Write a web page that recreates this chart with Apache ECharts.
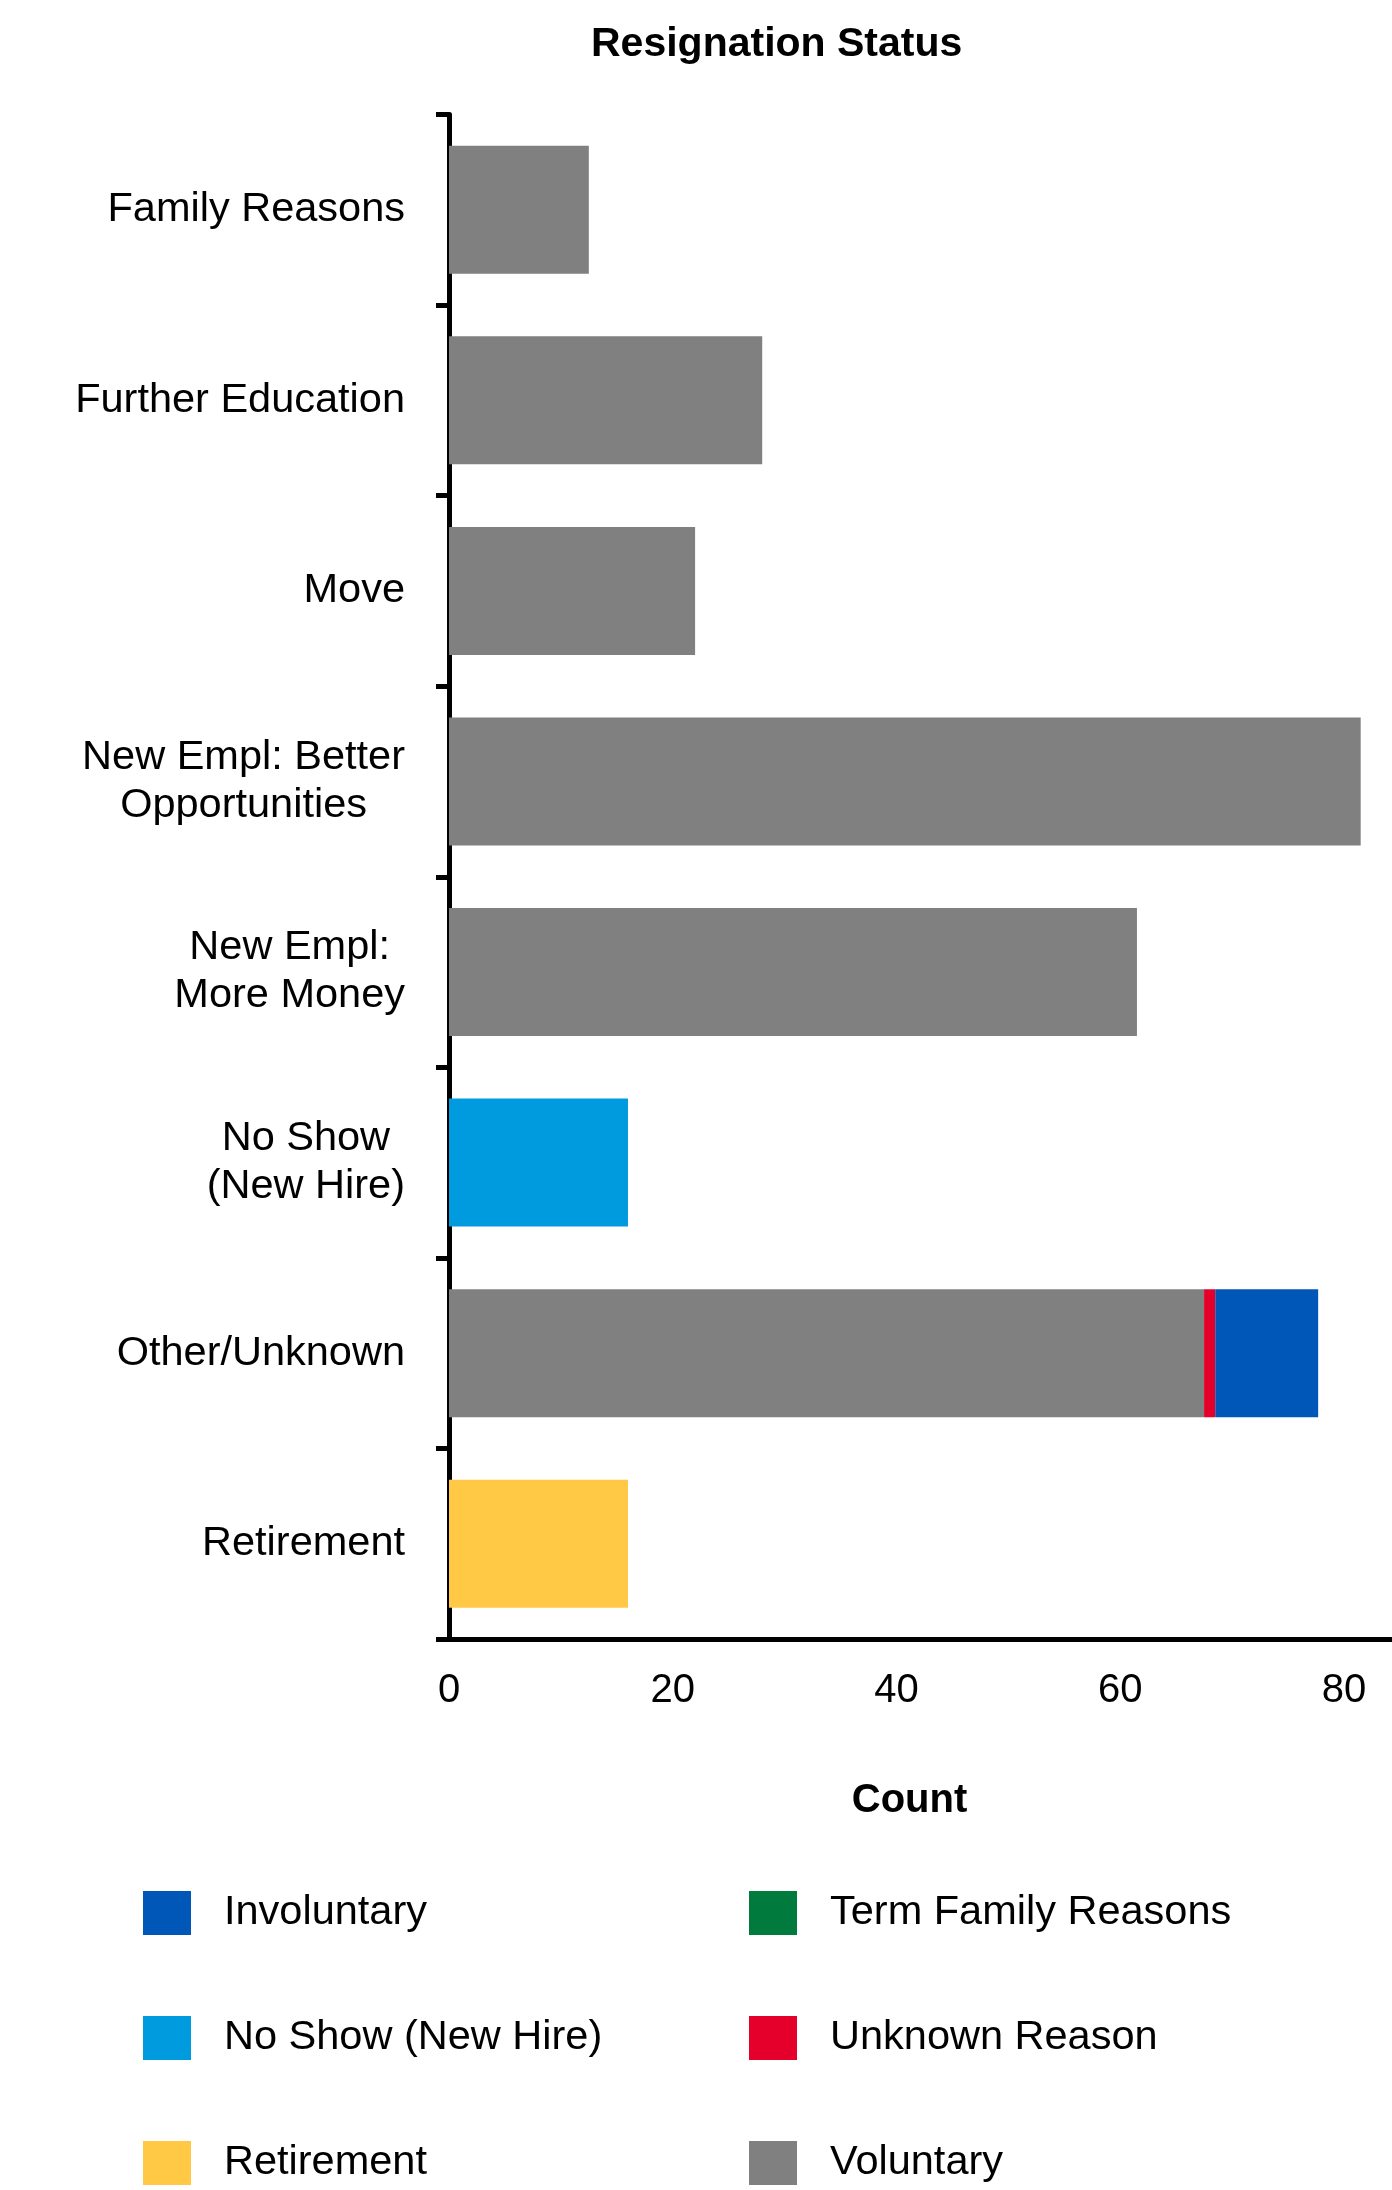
<!DOCTYPE html>
<html>
<head>
<meta charset="utf-8">
<style>
  html, body { margin: 0; padding: 0; background: #ffffff; }
  #chart { width: 1392px; height: 2190px; }
</style>
<script src="https://cdn.jsdelivr.net/npm/echarts@6/dist/echarts.min.js"></script>
</head>
<body>
<div id="chart"></div>
<script>
// ---- data ----
var categories = [
  'Family Reasons',
  'Further Education',
  'Move',
  'New Empl: Better\nOpportunities',
  'New Empl:\nMore Money',
  'No Show\n(New Hire)',
  'Other/Unknown',
  'Retirement'
];
var voluntary         = [12.5, 28, 22, 81.5, 61.5, null, 67.5, null];
var unknownReason     = [null, null, null, null, null, null, 1, null];
var involuntary       = [null, null, null, null, null, null, 9.2, null];
var noShowNewHire     = [null, null, null, null, null, 16, null, null];
var retirement        = [null, null, null, null, null, null, null, 16];
var termFamilyReasons = [null, null, null, null, null, null, null, null];
var xTicks = [0, 20, 40, 60, 80];
var legendCol1 = ['Involuntary', 'No Show (New Hire)', 'Retirement'];
var legendCol2 = ['Term Family Reasons', 'Unknown Reason', 'Voluntary'];

var FONT = '"Liberation Sans", Arial, Helvetica, sans-serif';
var colors = {
  'Involuntary': '#0057B8',
  'No Show (New Hire)': '#009ADE',
  'Retirement': '#FFC845',
  'Term Family Reasons': '#007A3D',
  'Unknown Reason': '#E4002B',
  'Voluntary': '#808080'
};

function bar(name, data) {
  return {
    name: name, type: 'bar', stack: 'total', data: data,
    barWidth: 128,
    itemStyle: { color: colors[name] },
    emphasis: { disabled: true }
  };
}

function legendCol(left, data) {
  return {
    orient: 'vertical', left: left, top: 1886, height: 300, itemGap: 81,
    itemWidth: 48, itemHeight: 44, icon: 'rect',
    data: data,
    textStyle: { fontFamily: FONT, fontSize: 41.5, color: '#000', padding: [14, 0, 0, 28] },
    selectedMode: false
  };
}

var chart = echarts.init(document.getElementById('chart'), null, { renderer: 'canvas' });
chart.setOption({
  backgroundColor: '#ffffff',
  animation: false,
  title: {
    text: 'Resignation Status',
    left: 586, top: 19,
    textStyle: { fontFamily: FONT, fontSize: 41, fontWeight: 'bold', color: '#000' }
  },
  grid: { left: 449, right: 0, top: 114.5, bottom: 551 },
  xAxis: {
    type: 'value', min: 0, max: 84.3, interval: 20,
    name: 'Count', nameLocation: 'middle', nameGap: 142,
    nameTextStyle: { fontFamily: FONT, fontSize: 40, fontWeight: 'bold', color: '#000', padding: [0, 22, 0, 0] },
    axisLine: { show: true, lineStyle: { color: '#000', width: 5 } },
    axisTick: { show: false },
    splitLine: { show: false },
    axisLabel: {
      fontFamily: FONT, fontSize: 40, color: '#000', margin: 32,
      showMaxLabel: false,
      formatter: function (v) { return xTicks.indexOf(v) >= 0 ? String(v) : ''; }
    }
  },
  yAxis: {
    type: 'category', data: categories, inverse: true,
    axisLine: { show: true, lineStyle: { color: '#000', width: 5 } },
    axisTick: { show: true, length: 13, lineStyle: { color: '#000', width: 5 } },
    axisLabel: {
      margin: 44, color: '#000', fontFamily: FONT, fontSize: 41.5,
      formatter: function (v) {
        return v.split('\n').map(function (l) { return '{c|' + l + '}'; }).join('\n');
      },
      rich: { c: { align: 'center', fontFamily: FONT, fontSize: 41.5, color: '#000', lineHeight: 48 } }
    }
  },
  legend: [legendCol(138, legendCol1), legendCol(744, legendCol2)],
  series: [
    bar('Voluntary', voluntary),
    bar('Unknown Reason', unknownReason),
    bar('Involuntary', involuntary),
    bar('No Show (New Hire)', noShowNewHire),
    bar('Retirement', retirement),
    bar('Term Family Reasons', termFamilyReasons)
  ]
});
</script>
</body>
</html>
